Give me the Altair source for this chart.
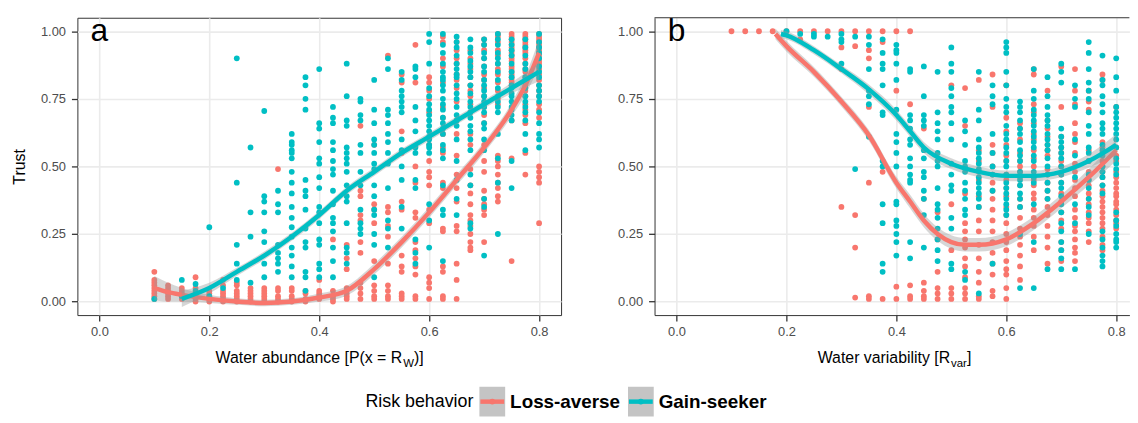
import altair as alt
import pandas as pd

RED = "#F8766D"
TEAL = "#00BFC4"
GROUPS = ["Loss-averse", "Gain-seeker"]
FONT = "Liberation Sans"

# ---------------- panel a: water abundance ----------------
A_LOSS = {
    0.1: [0.11, 0.08, 0.07, 0.06, 0.05, 0.04, 0.03, 0.02, 0.01],
    0.125: [0.06, 0.05, 0.04, 0.03, 0.02, 0.01],
    0.15: [0.05, 0.04, 0.03, 0.02, 0.01],
    0.175: [0.09, 0.05, 0.03, 0.02, 0.01, 0.0],
    0.2: [0.04, 0.03, 0.02, 0.01, 0.0],
    0.225: [0.08, 0.06, 0.04, 0.03, 0.02, 0.01, 0.0],
    0.25: [0.07, 0.06, 0.04, 0.03, 0.02, 0.01, 0.0],
    0.275: [0.05, 0.04, 0.03, 0.02, 0.01, 0.0],
    0.3: [0.05, 0.04, 0.03, 0.02, 0.01, 0.0],
    0.325: [0.49, 0.05, 0.04, 0.02, 0.01, 0.0],
    0.35: [0.05, 0.04, 0.02, 0.01, 0.0],
    0.375: [0.04, 0.03, 0.01, 0.0],
    0.4: [0.08, 0.04, 0.03, 0.02, 0.01],
    0.425: [0.23, 0.04, 0.02, 0.01, 0.0],
    0.45: [0.21, 0.16, 0.12, 0.05, 0.03, 0.02, 0.01],
    0.475: [0.65, 0.41, 0.39, 0.32, 0.3, 0.22, 0.18, 0.07, 0.05, 0.03, 0.01],
    0.5: [0.58, 0.36, 0.34, 0.29, 0.15, 0.06, 0.04, 0.02, 0.01],
    0.525: [0.91, 0.35, 0.33, 0.28, 0.24, 0.14, 0.06, 0.04, 0.02, 0.01],
    0.55: [0.84, 0.81, 0.63, 0.55, 0.37, 0.34, 0.17, 0.13, 0.11, 0.03, 0.02, 0.01],
    0.575: [0.95, 0.81, 0.5, 0.44, 0.33, 0.31, 0.22, 0.19, 0.16, 0.13, 0.1, 0.02, 0.01],
    0.6: [0.83, 0.81, 0.78, 0.75, 0.7, 0.58, 0.52, 0.48, 0.46, 0.43, 0.34, 0.29, 0.09, 0.07, 0.05, 0.01],
    0.625: [0.98, 0.96, 0.9, 0.87, 0.81, 0.72, 0.68, 0.62, 0.57, 0.55, 0.44, 0.42, 0.27, 0.26, 0.13, 0.11,
            0.02, 0.01],
    0.65: [0.96, 0.93, 0.9, 0.88, 0.84, 0.82, 0.79, 0.74, 0.67, 0.62, 0.54, 0.47, 0.42, 0.37, 0.28, 0.26,
           0.14, 0.08, 0.01],
    0.675: [0.93, 0.9, 0.88, 0.86, 0.83, 0.8, 0.78, 0.76, 0.73, 0.7, 0.62, 0.58, 0.49, 0.43, 0.4, 0.36,
            0.32, 0.3, 0.28, 0.25, 0.22, 0.2, 0.19],
    0.7: [0.97, 0.95, 0.93, 0.9, 0.87, 0.84, 0.82, 0.79, 0.76, 0.72, 0.69, 0.66, 0.58, 0.52, 0.48, 0.41,
          0.38, 0.36, 0.34, 0.32, 0.22],
    0.725: [0.99, 0.98, 0.96, 0.93, 0.91, 0.88, 0.86, 0.84, 0.81, 0.78, 0.75, 0.73, 0.54, 0.52, 0.5, 0.47,
            0.44, 0.42, 0.39, 0.37],
    0.75: [0.99, 0.98, 0.97, 0.96, 0.95, 0.94, 0.93, 0.92, 0.91, 0.9, 0.89, 0.87, 0.86, 0.85, 0.84, 0.83,
           0.82, 0.81, 0.8, 0.67, 0.53, 0.15],
    0.775: [0.99, 0.98, 0.97, 0.96, 0.95, 0.94, 0.93, 0.92, 0.9, 0.88, 0.86, 0.85, 0.83, 0.8, 0.78, 0.76,
            0.73, 0.71, 0.69, 0.66, 0.55, 0.47],
    0.8: [0.99, 0.98, 0.97, 0.96, 0.95, 0.94, 0.93, 0.92, 0.91, 0.9, 0.89, 0.88, 0.86, 0.84, 0.82, 0.8,
          0.78, 0.76, 0.73, 0.71, 0.68, 0.5, 0.48, 0.46, 0.44, 0.29],
}
A_GAIN = {
    0.1: [0.01],
    0.15: [0.08, 0.02],
    0.175: [0.065, 0.04],
    0.2: [0.275, 0.02],
    0.225: [0.05],
    0.25: [0.9, 0.44, 0.21, 0.14, 0.08],
    0.275: [0.57, 0.33, 0.24, 0.07],
    0.3: [0.705, 0.39, 0.37, 0.33, 0.26, 0.22, 0.14, 0.09],
    0.325: [0.41, 0.36, 0.33, 0.21, 0.18, 0.16, 0.14, 0.11],
    0.35: [0.62, 0.59, 0.58, 0.56, 0.55, 0.53, 0.48, 0.44, 0.4, 0.35, 0.31, 0.275, 0.24, 0.2, 0.17, 0.13,
           0.09],
    0.375: [0.83, 0.8, 0.75, 0.71, 0.45, 0.41, 0.39, 0.34, 0.27, 0.22, 0.2, 0.11, 0.09, 0.04],
    0.4: [0.86, 0.66, 0.64, 0.59, 0.53, 0.51, 0.46, 0.42, 0.35, 0.33, 0.29, 0.23, 0.21, 0.14, 0.12, 0.09],
    0.425: [0.72, 0.68, 0.66, 0.59, 0.56, 0.52, 0.49, 0.47, 0.41, 0.36, 0.31, 0.29, 0.26, 0.2, 0.15, 0.09],
    0.45: [0.88, 0.76, 0.67, 0.65, 0.57, 0.55, 0.53, 0.51, 0.48, 0.43, 0.39, 0.37, 0.29, 0.2, 0.18, 0.14],
    0.475: [0.75, 0.74, 0.69, 0.67, 0.58, 0.55, 0.48, 0.43, 0.34, 0.29, 0.27, 0.25],
    0.5: [0.82, 0.71, 0.66, 0.6, 0.58, 0.55, 0.51, 0.49, 0.43, 0.39, 0.34, 0.32, 0.25, 0.21, 0.09],
    0.525: [0.9, 0.86, 0.71, 0.69, 0.66, 0.62, 0.59, 0.55, 0.51, 0.42, 0.3, 0.27, 0.2],
    0.55: [0.85, 0.82, 0.78, 0.76, 0.74, 0.72, 0.7, 0.6, 0.56, 0.5, 0.45, 0.35, 0.27],
    0.575: [0.87, 0.86, 0.83, 0.72, 0.67, 0.63, 0.57, 0.55, 0.45, 0.42, 0.23, 0.18, 0.14],
    0.6: [0.99, 0.96, 0.88, 0.79, 0.76, 0.73, 0.71, 0.69, 0.67, 0.65, 0.63, 0.61, 0.6, 0.58, 0.57, 0.55,
          0.36, 0.3, 0.2],
    0.625: [0.99, 0.95, 0.92, 0.88, 0.85, 0.83, 0.82, 0.8, 0.78, 0.75, 0.73, 0.71, 0.68, 0.66, 0.64, 0.62,
            0.58, 0.56, 0.53, 0.43, 0.34, 0.32, 0.15],
    0.65: [0.98, 0.96, 0.94, 0.91, 0.88, 0.86, 0.84, 0.83, 0.8, 0.77, 0.75, 0.72, 0.69, 0.67, 0.65, 0.6,
           0.52, 0.45, 0.38, 0.32],
    0.675: [0.97, 0.94, 0.92, 0.89, 0.87, 0.85, 0.83, 0.8, 0.77, 0.74, 0.72, 0.7, 0.68, 0.65, 0.63, 0.6,
            0.56, 0.47, 0.43, 0.29, 0.27],
    0.7: [0.97, 0.95, 0.92, 0.9, 0.87, 0.85, 0.82, 0.8, 0.78, 0.76, 0.74, 0.72, 0.7, 0.66, 0.64, 0.6,
          0.56, 0.38, 0.35, 0.17],
    0.725: [0.99, 0.97, 0.95, 0.92, 0.9, 0.88, 0.85, 0.82, 0.79, 0.76, 0.74, 0.72, 0.7, 0.62, 0.53, 0.44,
            0.25],
    0.75: [0.97, 0.95, 0.93, 0.91, 0.88, 0.85, 0.83, 0.8, 0.79, 0.77, 0.76, 0.74, 0.72, 0.71, 0.69, 0.67,
           0.52, 0.42],
    0.775: [0.97, 0.94, 0.91, 0.88, 0.86, 0.83, 0.81, 0.79, 0.76, 0.74, 0.72, 0.7, 0.67, 0.62, 0.56],
    0.8: [0.99, 0.96, 0.94, 0.92, 0.9, 0.87, 0.85, 0.83, 0.8, 0.78, 0.76, 0.74, 0.7, 0.66, 0.62, 0.6,
          0.57],
}
# loess curves (x, fit, half-width of grey band)
A_LOSS_FIT_X = [0.1, 0.125, 0.15, 0.2, 0.25, 0.3, 0.35, 0.4, 0.45, 0.5, 0.55, 0.6, 0.65, 0.7, 0.75, 0.775, 0.8]
A_LOSS_FIT_Y = [0.05, 0.035, 0.025, 0.01, 0.0, -0.005, 0.0, 0.015, 0.04, 0.12, 0.22, 0.33, 0.45, 0.57, 0.71,
                0.8, 0.92]
A_LOSS_FIT_SE = [0.045, 0.035, 0.025, 0.015, 0.012, 0.012, 0.012, 0.015, 0.018, 0.02, 0.02, 0.02, 0.02, 0.02,
                 0.025, 0.035, 0.05]
A_GAIN_FIT_X = [0.15, 0.2, 0.25, 0.3, 0.35, 0.4, 0.45, 0.5, 0.55, 0.6, 0.65, 0.7, 0.75, 0.8]
A_GAIN_FIT_Y = [0.01, 0.05, 0.11, 0.17, 0.24, 0.32, 0.41, 0.48, 0.55, 0.61, 0.67, 0.73, 0.79, 0.85]
A_GAIN_FIT_SE = [0.03, 0.02, 0.015, 0.015, 0.015, 0.015, 0.015, 0.015, 0.015, 0.015, 0.015, 0.015, 0.02, 0.035]

# ---------------- panel b: water variability ----------------
B_LOSS = {
    0.1: [1.0], 0.125: [1.0], 0.15: [1.0], 0.175: [1.0], 0.2: [1.0],
    0.225: [1.0, 0.97], 0.25: [1.0], 0.275: [1.0],
    0.3: [1.0, 0.94, 0.86, 0.35],
    0.325: [1.0, 0.945, 0.32, 0.2, 0.015],
    0.35: [1.0, 0.93, 0.9, 0.72, 0.44, 0.02, 0.01],
    0.375: [1.0, 0.96, 0.48, 0.01],
    0.4: [1.0, 0.78, 0.055, 0.01],
    0.425: [1.0, 0.73, 0.06, 0.02, 0.01],
    0.45: [0.64, 0.38, 0.07, 0.04, 0.02, 0.01],
    0.475: [0.33, 0.23, 0.11, 0.05, 0.03, 0.01],
    0.5: [0.8, 0.36, 0.19, 0.05, 0.03, 0.01],
    0.525: [0.79, 0.65, 0.4, 0.29, 0.26, 0.23, 0.2, 0.16, 0.13, 0.09, 0.05, 0.03, 0.01],
    0.55: [0.82, 0.56, 0.52, 0.48, 0.45, 0.39, 0.35, 0.3, 0.26, 0.21, 0.16, 0.11, 0.07, 0.02, 0.01],
    0.575: [0.84, 0.72, 0.58, 0.55, 0.5, 0.47, 0.44, 0.41, 0.38, 0.34, 0.3, 0.26, 0.22, 0.18, 0.14, 0.1,
            0.04, 0.02],
    0.6: [0.8, 0.68, 0.63, 0.58, 0.54, 0.52, 0.47, 0.45, 0.42, 0.39, 0.35, 0.32, 0.29, 0.25, 0.22, 0.19,
          0.15, 0.12, 0.1, 0.05, 0.01],
    0.625: [0.66, 0.64, 0.6, 0.55, 0.52, 0.5, 0.48, 0.46, 0.43, 0.38, 0.35, 0.31, 0.27, 0.24, 0.21, 0.17,
            0.13, 0.08],
    0.65: [0.86, 0.84, 0.73, 0.7, 0.66, 0.62, 0.6, 0.56, 0.53, 0.5, 0.45, 0.43, 0.4, 0.38, 0.34, 0.31,
           0.28, 0.24, 0.19],
    0.675: [0.78, 0.67, 0.64, 0.61, 0.58, 0.56, 0.54, 0.49, 0.47, 0.44, 0.41, 0.38, 0.35, 0.32, 0.28, 0.24,
            0.2, 0.14],
    0.7: [0.87, 0.72, 0.61, 0.57, 0.55, 0.52, 0.5, 0.47, 0.44, 0.4, 0.37, 0.33, 0.3, 0.27, 0.22, 0.19,
          0.15],
    0.725: [0.86, 0.78, 0.73, 0.66, 0.62, 0.59, 0.55, 0.51, 0.48, 0.45, 0.42, 0.39, 0.34, 0.31, 0.28, 0.26,
            0.23, 0.2, 0.18, 0.15],
    0.75: [0.78, 0.74, 0.71, 0.56, 0.52, 0.48, 0.45, 0.43, 0.4, 0.38, 0.36, 0.33, 0.31, 0.29, 0.26, 0.22],
    0.775: [0.84, 0.82, 0.59, 0.57, 0.55, 0.52, 0.5, 0.48, 0.46, 0.43, 0.41, 0.39, 0.37, 0.35, 0.33, 0.31,
            0.29, 0.27, 0.24, 0.21, 0.19],
    0.8: [0.72, 0.57, 0.54, 0.52, 0.48, 0.46, 0.44, 0.42, 0.4, 0.39, 0.37, 0.36, 0.34, 0.32, 0.3, 0.29,
          0.27],
}
B_GAIN = {
    0.2: [1.0],
    0.225: [0.99],
    0.25: [0.99, 0.98],
    0.275: [0.98],
    0.3: [0.99, 0.97, 0.96, 0.88],
    0.325: [0.98, 0.49],
    0.35: [0.98, 0.95, 0.86, 0.78, 0.76, 0.73, 0.61],
    0.375: [0.97, 0.92, 0.88, 0.86, 0.8, 0.7, 0.69, 0.52, 0.5, 0.36, 0.29, 0.14, 0.11],
    0.4: [0.95, 0.93, 0.92, 0.88, 0.82, 0.71, 0.62, 0.59, 0.55, 0.5, 0.37, 0.36, 0.3, 0.28, 0.25, 0.22,
          0.17],
    0.425: [0.86, 0.85, 0.69, 0.67, 0.64, 0.6, 0.58, 0.53, 0.5, 0.47, 0.45, 0.44, 0.22, 0.16],
    0.45: [0.87, 0.76, 0.69, 0.67, 0.65, 0.56, 0.53, 0.48, 0.46, 0.41, 0.38, 0.32, 0.2],
    0.475: [0.85, 0.7, 0.66, 0.63, 0.6, 0.55, 0.52, 0.5, 0.42, 0.36, 0.34, 0.31, 0.27, 0.23, 0.19, 0.15],
    0.5: [0.94, 0.88, 0.85, 0.79, 0.76, 0.72, 0.7, 0.66, 0.6, 0.51, 0.47, 0.43, 0.41, 0.31, 0.27, 0.14,
          0.12],
    0.525: [0.67, 0.63, 0.58, 0.52, 0.5, 0.48, 0.44, 0.41, 0.38, 0.34, 0.32, 0.11, 0.08],
    0.55: [0.85, 0.71, 0.67, 0.6, 0.57, 0.55, 0.53, 0.51, 0.49, 0.46, 0.44, 0.42, 0.4, 0.38, 0.35, 0.03],
    0.575: [0.8, 0.76, 0.73, 0.62, 0.55, 0.5, 0.47, 0.41, 0.14],
    0.6: [0.96, 0.94, 0.92, 0.85, 0.8, 0.75, 0.72, 0.7, 0.65, 0.62, 0.6, 0.57, 0.55, 0.52, 0.5, 0.47,
          0.44, 0.42, 0.4, 0.38, 0.36, 0.34, 0.32],
    0.625: [0.74, 0.72, 0.7, 0.67, 0.64, 0.62, 0.59, 0.56, 0.54, 0.52, 0.48, 0.45, 0.43, 0.4, 0.38, 0.35,
            0.25, 0.05],
    0.65: [0.86, 0.78, 0.75, 0.71, 0.69, 0.67, 0.65, 0.63, 0.61, 0.59, 0.57, 0.54, 0.52, 0.48, 0.46, 0.44,
           0.36, 0.22, 0.05],
    0.675: [0.83, 0.76, 0.72, 0.69, 0.67, 0.65, 0.62, 0.6, 0.58, 0.56, 0.53, 0.5, 0.47, 0.44, 0.41, 0.38,
            0.12],
    0.7: [0.88, 0.85, 0.81, 0.64, 0.61, 0.59, 0.57, 0.55, 0.53, 0.5, 0.47, 0.44, 0.42, 0.39, 0.36, 0.33,
          0.29, 0.26, 0.22, 0.19, 0.16, 0.12],
    0.725: [0.8, 0.75, 0.72, 0.6, 0.54, 0.46, 0.36, 0.29, 0.12],
    0.75: [0.96, 0.92, 0.86, 0.81, 0.78, 0.75, 0.7, 0.65, 0.62, 0.57, 0.55, 0.52, 0.47, 0.45, 0.42, 0.38,
           0.35, 0.32, 0.25],
    0.775: [0.91, 0.82, 0.8, 0.76, 0.73, 0.7, 0.66, 0.64, 0.62, 0.58, 0.56, 0.54, 0.5, 0.48, 0.46, 0.43,
            0.4, 0.26, 0.23, 0.2, 0.17, 0.15, 0.13],
    0.8: [0.9, 0.83, 0.78, 0.72, 0.7, 0.68, 0.66, 0.64, 0.62, 0.6, 0.57, 0.53, 0.51, 0.49, 0.47, 0.33,
          0.3, 0.28, 0.25, 0.23, 0.22, 0.2],
}
B_LOSS_FIT_X = [0.18, 0.2, 0.25, 0.3, 0.35, 0.4, 0.425, 0.45, 0.475, 0.5, 0.525, 0.55, 0.575, 0.6, 0.65, 0.7,
                0.75, 0.8]
B_LOSS_FIT_Y = [0.99, 0.945, 0.85, 0.74, 0.615, 0.44, 0.37, 0.30, 0.25, 0.22, 0.21, 0.21, 0.215, 0.23, 0.29,
                0.37, 0.46, 0.56]
B_LOSS_FIT_SE = [0.02, 0.02, 0.018, 0.018, 0.02, 0.022, 0.025, 0.025, 0.025, 0.025, 0.025, 0.025, 0.025, 0.025,
                 0.025, 0.025, 0.03, 0.04]
B_GAIN_FIT_X = [0.19, 0.2, 0.25, 0.3, 0.35, 0.4, 0.425, 0.45, 0.5, 0.55, 0.6, 0.65, 0.7, 0.75, 0.8]
B_GAIN_FIT_Y = [0.99, 0.985, 0.93, 0.86, 0.785, 0.69, 0.63, 0.57, 0.51, 0.48, 0.465, 0.465, 0.48, 0.52, 0.58]
B_GAIN_FIT_SE = [0.015, 0.015, 0.015, 0.015, 0.018, 0.02, 0.02, 0.02, 0.02, 0.02, 0.02, 0.02, 0.02, 0.025, 0.04]

X_TICKS = [0.0, 0.2, 0.4, 0.6, 0.8]
Y_TICKS = [0.0, 0.25, 0.5, 0.75, 1.0]

LEG_TITLE = "Risk behavior"
LEG_LABELS = GROUPS
LEG_COLORS = [RED, TEAL]

PX_PER_UNIT = 554.5
H = 300
XMIN = -0.04
A_XMAX = 0.84
B_XMAX = 0.824          # the right side of panel b is cut off by the picture edge
WA = round((A_XMAX - XMIN) * PX_PER_UNIT, 1)
WB = round((B_XMAX - XMIN) * PX_PER_UNIT, 1)
PT_SIZE = 34


def points_df(loss, gain):
    rows = []
    for g, d in (("Loss-averse", loss), ("Gain-seeker", gain)):
        for x, ys in d.items():
            for y in ys:
                rows.append({"x": x, "y": y, "g": g})
    return pd.DataFrame(rows)


def fit_df(xs, ys, se):
    return pd.DataFrame({"x": xs, "y": ys,
                         "lo": [a - b for a, b in zip(ys, se)],
                         "hi": [a + b for a, b in zip(ys, se)]})


def legend_layers():
    """Legend drawn below the panels; positions relative to panel a's plot origin."""
    ox = -76            # plot origin of panel a in page pixels
    cy = 400 - 12.7     # legend centre line
    kw, kh = 26, 30
    out = [alt.Chart(pd.DataFrame({"t": [LEG_TITLE]})).mark_text(
        fontSize=18, font=FONT, align="left", baseline="middle", color="black").encode(
        x=alt.value(366.6 + ox), y=alt.value(cy), text="t:N")]
    for kx, lx, lab, col in zip([481.6, 631.5], [512.6, 662.5], LEG_LABELS, LEG_COLORS):
        one = pd.DataFrame({"t": [lab]})
        out.append(alt.Chart(one).mark_rect(color="#c4c4c4").encode(
            x=alt.value(kx + ox), x2=alt.value(kx + kw + ox),
            y=alt.value(cy - kh / 2), y2=alt.value(cy + kh / 2)))
        out.append(alt.Chart(one).mark_rule(color=col, strokeWidth=4.5).encode(
            x=alt.value(kx + 1 + ox), x2=alt.value(kx + kw - 1 + ox), y=alt.value(cy)))
        out.append(alt.Chart(one).mark_circle(color=col, size=PT_SIZE, opacity=1).encode(
            x=alt.value(kx + kw / 2 + ox), y=alt.value(cy)))
        out.append(alt.Chart(one).mark_text(
            fontSize=19, font=FONT, fontWeight="bold", align="left", baseline="middle", color="black").encode(
            x=alt.value(lx + ox), y=alt.value(cy), text="t:N"))
    return out


color_scale = alt.Scale(domain=GROUPS, range=[RED, TEAL])


def panel(pts, fits, letter, ytitle, title_main, title_sub, sub_w, title_tail, main_right,
          width, xmax, open_right, extra=()):
    xsc = alt.Scale(domain=[XMIN, xmax], nice=False, zero=False)
    ysc = alt.Scale(domain=[-0.05, 1.05], nice=False, zero=False)
    dom = dict(domain=True, domainColor="#333333", domainWidth=1) if open_right else {}
    xax = alt.Axis(values=X_TICKS, format=".1f", title=None, labelPadding=5, **dom)
    yax = alt.Axis(values=Y_TICKS, format=".2f", labelPadding=6, title=ytitle if ytitle else None, **dom)
    X = alt.X("x:Q", scale=xsc, axis=xax)
    Y = alt.Y("y:Q", scale=ysc, axis=yax)

    layers = [
        alt.Chart(pts).mark_circle(size=PT_SIZE, opacity=1).encode(
            x=X, y=Y, color=alt.Color("g:N", scale=color_scale, legend=None))
    ]
    for df, col in fits:
        layers.append(alt.Chart(df).mark_area(color="#999999", opacity=0.4, interpolate="monotone").encode(
            x=X, y=alt.Y("lo:Q", scale=ysc, axis=yax), y2="hi:Q"))
        layers.append(alt.Chart(df).mark_line(color=col, strokeWidth=4.5, interpolate="monotone").encode(
            x=X, y=Y))
    layers.append(alt.Chart(pd.DataFrame({"x": [0.0], "y": [1.0], "t": [letter]})).mark_text(
        fontSize=32, font=FONT, align="center", baseline="middle", color="black").encode(
        x=X, y=Y, text="t:N"))
    # x-axis title with a subscript
    layers.append(alt.Chart(pd.DataFrame({"t": [title_main]})).mark_text(
        fontSize=16, font=FONT, align="right", baseline="alphabetic", color="black").encode(
        x=alt.value(main_right), y=alt.value(H + 48), text="t:N"))
    layers.append(alt.Chart(pd.DataFrame({"t": [title_sub]})).mark_text(
        fontSize=11.5, font=FONT, align="left", baseline="alphabetic", color="black").encode(
        x=alt.value(main_right + 1), y=alt.value(H + 52), text="t:N"))
    layers.append(alt.Chart(pd.DataFrame({"t": [title_tail]})).mark_text(
        fontSize=16, font=FONT, align="left", baseline="alphabetic", color="black").encode(
        x=alt.value(main_right + 1 + sub_w), y=alt.value(H + 48), text="t:N"))
    props = dict(width=width, height=H)
    if open_right:
        layers.append(alt.Chart(pd.DataFrame({"t": ["top"]})).mark_rule(color="#333333", strokeWidth=1).encode(
            x=alt.value(0), x2=alt.value(width), y=alt.value(0)))
        props["view"] = alt.ViewConfig(stroke=None)
    layers.extend(extra)
    return alt.layer(*layers).properties(**props)


pa = panel(points_df(A_LOSS, A_GAIN),
           [(fit_df(A_LOSS_FIT_X, A_LOSS_FIT_Y, A_LOSS_FIT_SE), RED),
            (fit_df(A_GAIN_FIT_X, A_GAIN_FIT_Y, A_GAIN_FIT_SE), TEAL)],
           "a", "Trust", "Water abundance [P(x = R", "W", 10.9, "\u00a0)]", 327.7, WA, A_XMAX, False,
           extra=legend_layers())
pb = panel(points_df(B_LOSS, B_GAIN),
           [(fit_df(B_LOSS_FIT_X, B_LOSS_FIT_Y, B_LOSS_FIT_SE), RED),
            (fit_df(B_GAIN_FIT_X, B_GAIN_FIT_Y, B_GAIN_FIT_SE), TEAL)],
           "b", None, "Water variability [R", "var", 16.0, "\u00a0]", 298.2, WB, B_XMAX, True)

chart = alt.hconcat(pa, pb, spacing=94.3, bounds="flush").properties(
    padding={"left": 3, "top": 5, "right": 0, "bottom": 0}
).configure(font=FONT).configure_view(
    stroke="#333333", strokeWidth=1
).configure_axis(
    grid=True, gridColor="#ebebeb", gridWidth=1.6, domain=False,
    tickColor="#333333", tickWidth=1.3, tickSize=6,
    labelColor="#4d4d4d", labelFontSize=13, labelFont=FONT,
    titleColor="black", titleFontSize=16, titleFontWeight="normal", titleFont=FONT, titlePadding=13,
)

chart.save("out.html", embed_options={"renderer": "svg", "actions": False})
